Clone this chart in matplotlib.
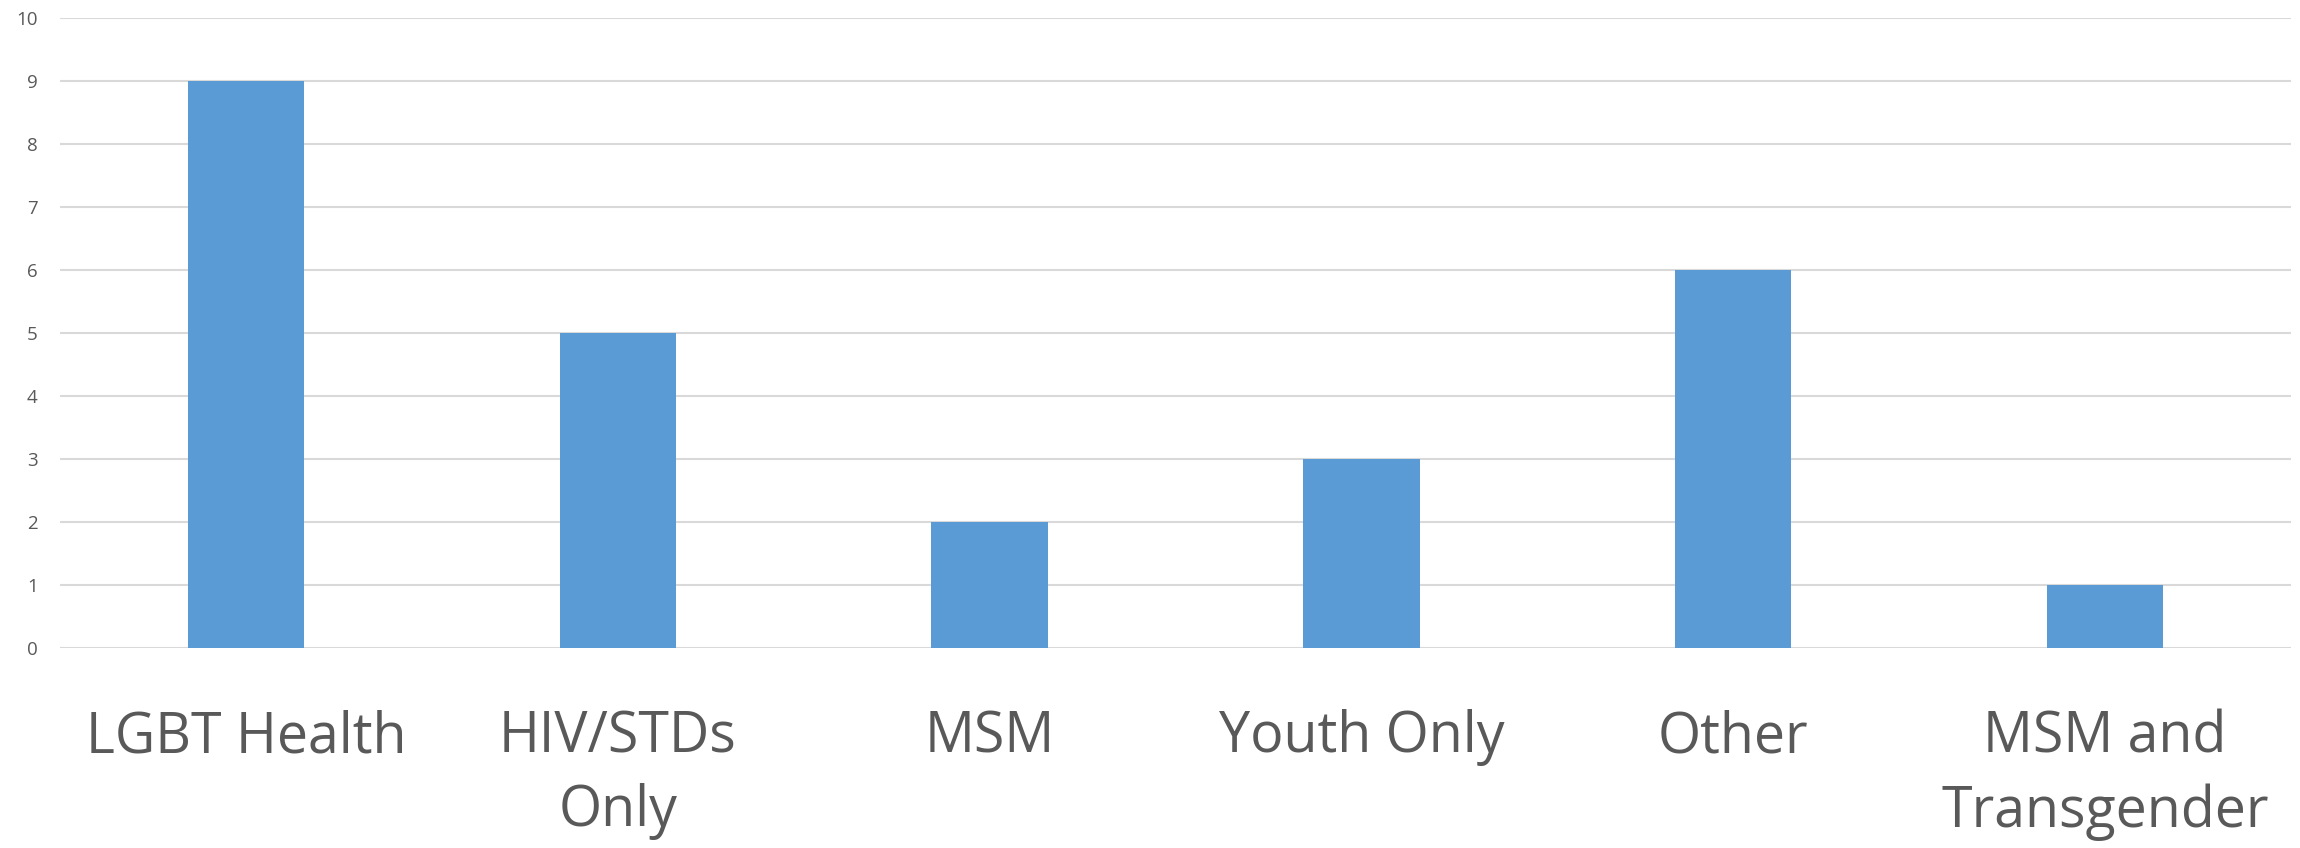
import matplotlib
matplotlib.use("Agg")
import matplotlib.pyplot as plt
import numpy as np

categories = ["LGBT Health", "HIV/STDs\nOnly", "MSM", "Youth Only", "Other", "MSM and\nTransgender"]
counts = [9, 5, 2, 3, 6, 1]
yticks = [0, 1, 2, 3, 4, 5, 6, 7, 8, 9, 10]

plt.rcParams['font.family'] = ['Open Sans', 'DejaVu Sans']

fig = plt.figure(figsize=(23, 8.48), dpi=100)
ax = fig.add_axes([60/2300, 200/848, 2231/2300, 630/848])

x = np.arange(len(categories))
ax.bar(x, counts, width=0.313, color="#5B9BD5", zorder=3)

ax.set_xlim(-0.5, len(categories) - 0.5)
ax.set_ylim(0, 10)
ax.set_yticks(yticks)
ax.yaxis.grid(True, color="#D9D9D9", linewidth=1.5, zorder=0)
ax.set_xticks(x)
ax.set_xticklabels(categories, fontsize=40, color="#595959", linespacing=1.4)
for t in ax.get_yticklabels():
    t.set_fontsize(13.5)
    t.set_color("#595959")
ax.tick_params(axis='y', length=0, pad=16)
ax.tick_params(axis='x', length=0, pad=44)
for s in ax.spines.values():
    s.set_visible(False)

fig.savefig("out.png", dpi=100)
